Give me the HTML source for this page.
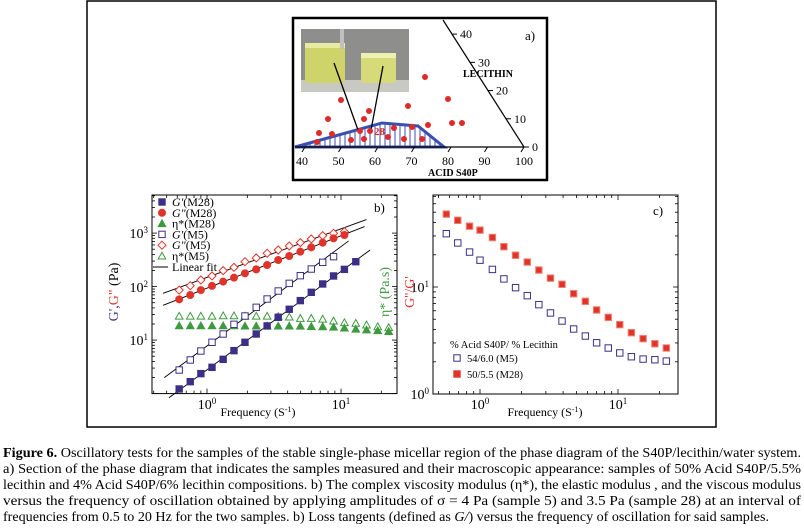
<!DOCTYPE html>
<html><head><meta charset="utf-8"><style>
body{margin:0;background:#fff;}
svg{display:block;font-family:"Liberation Serif",serif;}
</style></head><body>
<svg id="fig" width="804" height="530" viewBox="0 0 804 530" xmlns="http://www.w3.org/2000/svg">
<rect x="87" y="1" width="629" height="426" fill="none" stroke="#000" stroke-width="1.5"/>
<g id="pa">
<rect x="293" y="18" width="254" height="162" fill="#fff" stroke="#000" stroke-width="2.5"/>
<g>
<rect x="301" y="29" width="108" height="63" fill="#8e8f8c"/>
<rect x="301" y="80" width="108" height="12" fill="#c9c9c4"/>
<rect x="305" y="43" width="40" height="40" fill="#cfd46a" rx="3"/>
<rect x="305" y="43" width="40" height="5" fill="#e8eaa0"/>
<rect x="361" y="53" width="35" height="30" fill="#d6da78" rx="3"/>
<rect x="361" y="53" width="35" height="5" fill="#eef0b0"/>
<rect x="340" y="29" width="4" height="20" fill="#c0c0c0"/>
</g>
<polygon points="295,147 382,123 418,126 444,147" fill="#fff" stroke="#3b4fb0" stroke-width="3"/>
<g id="hatch" stroke="#3b4fb0" stroke-width="1"></g>
<line x1="295" y1="147" x2="524" y2="147" stroke="#000" stroke-width="1.2"/>
<line x1="443" y1="20" x2="524" y2="147" stroke="#000" stroke-width="1.2"/>
<line x1="334" y1="63" x2="358" y2="130" stroke="#000" stroke-width="1.3"/>
<line x1="383" y1="66" x2="371" y2="130" stroke="#000" stroke-width="1.3"/>
<g id="dots" fill="#e02a2a"></g>
<g id="ternLabels" font-size="12" fill="#000"></g>
<text x="428" y="176" font-size="10" font-weight="bold">ACID S40P</text>
<text x="463" y="77" font-size="10" font-weight="bold">LECITHIN</text>
<text x="525" y="40" font-size="13">a)</text>
</g>
<g id="pb"></g>
<g id="pc"></g>
<g id="caption" font-size="14" fill="#000">
<text x="3" y="457" textLength="798" lengthAdjust="spacingAndGlyphs"><tspan font-weight="bold">Figure 6.</tspan> Oscillatory tests for the samples of the stable single-phase micellar region of the phase diagram of the S40P/lecithin/water system.</text>
<text x="3" y="473" textLength="798" lengthAdjust="spacingAndGlyphs">a) Section of the phase diagram that indicates the samples measured and their macroscopic appearance: samples of 50% Acid S40P/5.5%</text>
<text x="3" y="489" textLength="798" lengthAdjust="spacingAndGlyphs">lecithin and 4% Acid S40P/6% lecithin compositions. b) The complex viscosity modulus (η*), the elastic modulus , and the viscous modulus</text>
<text x="3" y="505" textLength="798" lengthAdjust="spacingAndGlyphs">versus the frequency of oscillation obtained by applying amplitudes of σ = 4 Pa (sample 5) and 3.5 Pa (sample 28) at an interval of</text>
<text x="3" y="521" textLength="766" lengthAdjust="spacingAndGlyphs">frequencies from 0.5 to 20 Hz for the two samples. b) Loss tangents (defined as <tspan font-style="italic">G/</tspan>) versus the frequency of oscillation for said samples.</text>
</g>
</svg>
<script>
const freqB = [0.62,0.75,0.90,1.09,1.32,1.59,1.92,2.33,2.81,3.40,4.11,4.97,6.0,7.3,8.8,10.6,12.9,15.5,18.8,22.7];
const gpM28 = [1.22,1.67,2.36,3.1,4.37,6.35,9.1,13,18.4,26.7,37.7,54.7,78.2,112,158,210,292];
const gppM28 = [57.8,69.7,86,103,124,147,177,210,253,314,373,450,542,663,798,922];
const etaM28 = [18.5,18.5,18.5,18.5,18.5,18.5,18.3,18.3,18.3,18.3,18.3,18.2,18,17.8,17.5,16.8,16,15.5,15,14.5];
const gpM5 = [2.76,4.25,6.25,9.1,13.0,19.7,28.2,41,58.6,82.7,115,160,213,284,363];
const gppM5 = [86,104,133,158,199,229,292,343,419,483,574,663,776,896,991,1064];
const etaM5 = [28,28,28,28,28.5,28.5,28,28,28,27.5,27,25.5,25.5,24.7,22.8,21.2,20.6,19.2,17.8,17.1];
const fitRangeGpM5 = [0.48,11.4], fitRangeGpM28 = [0.52,16.5], fitRangeGppM5 = [0.47,15.5], fitRangeGppM28 = [0.47,15.0];
const freqC = [0.57,0.69,0.84,1.0,1.23,1.49,1.81,2.2,2.67,3.24,3.93,4.77,5.8,7.0,8.5,10.3,12.5,15.2,18.5,22.4];
const tanM28 = [48,42,37,34,29,23.8,19.8,17.1,14.4,12.1,10.6,8.65,7.35,6.1,5.2,4.45,3.74,3.29,2.95,2.69];
const tanM5 = [31.5,25.8,21.2,17.8,14.6,11.9,9.86,8.3,6.84,5.72,4.81,4.05,3.48,3.01,2.69,2.42,2.23,2.12,2.09,2.03];
const acidTicks = [40,50,60,70,80,90,100];
const lecTicks = [0,10,20,30,40];

const NS="http://www.w3.org/2000/svg";
function mk(tag,attrs,parent){const e=document.createElementNS(NS,tag);for(const k in attrs)e.setAttribute(k,attrs[k]);parent.appendChild(e);return e;}
const PURPLE="#3d2f86",RED="#e0342a",GREEN="#3f9a3f";

(function(){
 const g=document.getElementById('ternLabels');
 const ax=v=>305+(v-40)*3.65;
 acidTicks.forEach(v=>{
  mk('line',{x1:ax(v),y1:147,x2:ax(v)-3,y2:152,stroke:'#000'},g);
  const t=mk('text',{x:ax(v)-9,y:165},g);t.textContent=v;
  
  
 });
 lecTicks.forEach(v=>{
  const x=524-v*(81/45),y=147-v*(127/45);
  mk('line',{x1:x,y1:y,x2:x+5,y2:y,stroke:'#000'},g);
  const t=mk('text',{x:x+8,y:y+4},g);t.textContent=v;
  
  
 });
 const h=document.getElementById('hatch');
 for(let x=300;x<442;x+=5){
  let top;
  if(x<=382) top=147-(x-295)*24/87; else if(x<=418) top=123+(x-382)*3/36; else top=126+(x-418)*21/26;
  mk('line',{x1:x,y1:147,x2:x,y2:top},h);
 }
 const dots=[[425,77],[448,99],[408,106],[369,111],[341,100],[328,119],[364,119],[319,133],[332,134],[394,128],[428,125],[452,123],[462,123],[370,131],[351,140],[364,139],[388,137],[404,139],[422,139],[360,131],[412,127],[317,142]];
 const d=document.getElementById('dots');
 dots.forEach(p=>{const c=mk('circle',{cx:p[0],cy:p[1],r:3},d);
  
  });
 const t=mk('text',{x:374,y:135,'font-size':11,'font-weight':'bold',fill:'#e02a2a'},d);t.textContent='28';
})();

function logAxis(x0,x1,lx0,lx1){return v=>x0+(Math.log10(v)-lx0)/(lx1-lx0)*(x1-x0);}
function frame(g,L,T,R,B,sx,sy,xr,yr){
 mk('rect',{x:L,y:T,width:R-L,height:B-T,fill:'none',stroke:'#000','stroke-width':1},g);
 for(let d=Math.floor(xr[0]);d<=xr[1];d++)for(let m=1;m<10;m++){const v=m*Math.pow(10,d);const x=sx(v);if(x<L||x>R)continue;const len=m===1?5:3;
  mk('line',{x1:x,y1:B,x2:x,y2:B-len,stroke:'#000','stroke-width':0.8},g);mk('line',{x1:x,y1:T,x2:x,y2:T+len,stroke:'#000','stroke-width':0.8},g);}
 for(let d=Math.floor(yr[0]);d<=yr[1];d++)for(let m=1;m<10;m++){const v=m*Math.pow(10,d);const y=sy(v);if(y<T-0.5||y>B+0.5)continue;const len=m===1?5:3;
  mk('line',{x1:L,y1:y,x2:L+len,y2:y,stroke:'#000','stroke-width':0.8},g);mk('line',{x1:R,y1:y,x2:R-len,y2:y,stroke:'#000','stroke-width':0.8},g);}
}
function pow10(g,x,y,e,anchor,name){
 const t=mk('text',{x:x,y:y,'font-size':14,'text-anchor':anchor||'middle'},g);
 
 
 t.appendChild(document.createTextNode('10'));
 const s=mk('tspan',{dy:-5,'font-size':9},t);s.textContent=e;
}
function marker(g,type,x,y,color,filled,name){
 let e;
 const f=filled?color:'#fff';
 if(type==='sq') e=mk('rect',{x:x-3.2,y:y-3.2,width:6.4,height:6.4,fill:f,stroke:color,'stroke-width':1},g);
 else if(type==='di') e=filled?mk('circle',{cx:x,cy:y,r:3.5,fill:f,stroke:color},g):mk('polygon',{points:`${x},${y-4} ${x+4},${y} ${x},${y+4} ${x-4},${y}`,fill:f,stroke:color,'stroke-width':1},g);
 else e=mk('polygon',{points:`${x},${y-3.8} ${x+3.8},${y+3} ${x-3.8},${y+3}`,fill:f,stroke:color,'stroke-width':1},g);
 
 
 return e;
}
(function(){
 const g=document.getElementById('pb');
 const L=152,T=195,R=397,B=393.6;
 const sx=logAxis(207,341,0,1);
 const sy=v=>393.6-Math.log10(v)*53.5;
 frame(g,L,T,R,B,sx,sy,[-1,1.5],[0,3.8]);
 pow10(g,207,409,'0','middle','x-tick-label');pow10(g,341,409,'1','middle','x-tick-label');
 [[3,233],[2,287],[1,340]].forEach(a=>pow10(g,148,a[1]+5,a[0],'end','y-tick-label'));
 function fit(xs,ys,range,name){
  const n=ys.length;let sxv=0,syv=0,sxx=0,sxy=0;
  for(let i=0;i<n;i++){const a=Math.log10(xs[i]),b=Math.log10(ys[i]);sxv+=a;syv+=b;sxx+=a*a;sxy+=a*b;}
  const k=(n*sxy-sxv*syv)/(n*sxx-sxv*sxv),c=(syv-k*sxv)/n;
  const f=v=>Math.pow(10,c+k*Math.log10(v));
  const l=mk('line',{x1:sx(range[0]),y1:sy(f(range[0])),x2:sx(range[1]),y2:sy(f(range[1])),stroke:'#000','stroke-width':0.9},g);
  
  
 }
 fit(freqB,gppM5,fitRangeGppM5,'fit-gpp-m5');
 fit(freqB,gppM28,fitRangeGppM28,'fit-gpp-m28');
 fit(freqB,gpM5,fitRangeGpM5,'fit-gp-m5');
 fit(freqB,gpM28,fitRangeGpM28,'fit-gp-m28');
 etaM5.forEach((v,i)=>marker(g,'tri',sx(freqB[i]),sy(v),GREEN,false,'eta-m5-point'));
 etaM28.forEach((v,i)=>marker(g,'tri',sx(freqB[i]),sy(v),GREEN,true,'eta-m28-point'));
 gppM5.forEach((v,i)=>marker(g,'di',sx(freqB[i]),sy(v),RED,false,'gpp-m5-point'));
 gppM28.forEach((v,i)=>marker(g,'di',sx(freqB[i]),sy(v),RED,true,'gpp-m28-point'));
 gpM5.forEach((v,i)=>marker(g,'sq',sx(freqB[i]),sy(v),PURPLE,false,'gp-m5-point'));
 gpM28.forEach((v,i)=>marker(g,'sq',sx(freqB[i]),sy(v),PURPLE,true,'gp-m28-point'));
 const leg=[['sq',PURPLE,true,"G'",'(M28)',1],['di',RED,true,'G"','(M28)',1],['tri',GREEN,true,'η*','(M28)',0],['sq',PURPLE,false,"G'",'(M5)',1],['di',RED,false,'G"','(M5)',1],['tri',GREEN,false,'η*','(M5)',0]];
 leg.forEach((e,i)=>{const y=202+i*10.8;marker(g,e[0],162,y,e[1],e[2],'legend-marker');
  const t=mk('text',{x:172,y:y+4,'font-size':12},g);
  
  
  const a=mk('tspan',{'font-style':e[5]?'italic':'normal'},t);a.textContent=e[3];
  const b=mk('tspan',{},t);b.textContent=e[4];});
 mk('line',{x1:153,y1:267,x2:168,y2:267,stroke:'#000'},g);
 const lf=mk('text',{x:172,y:271,'font-size':12},g);lf.textContent='Linear fit';
 
 
 const pl=mk('text',{x:374,y:212,'font-size':13},g);pl.textContent='b)';
 
 
 const xt=mk('text',{x:258,y:416,'font-size':12,'text-anchor':'middle'},g);
 
 
 xt.appendChild(document.createTextNode('Frequency (S'));const s1=mk('tspan',{dy:-4,'font-size':8},xt);s1.textContent='-1';const s2=mk('tspan',{dy:4},xt);s2.textContent=')';
 const yt=mk('text',{x:0,y:0,'font-size':14,'text-anchor':'middle',transform:'translate(118,292) rotate(-90)'},g);
 
 
 const y1=mk('tspan',{fill:PURPLE},yt);y1.textContent="G',";const y2=mk('tspan',{fill:RED},yt);y2.textContent='G"';const y3=mk('tspan',{},yt);y3.textContent=' (Pa)';
 const et=mk('text',{x:0,y:0,'font-size':14,'text-anchor':'middle',fill:GREEN,transform:'translate(389,292) rotate(-90)'},g);
 
 
 et.textContent='η* (Pa.s)';
})();
(function(){
 const g=document.getElementById('pc');
 const L=433,T=195,R=678,B=394;
 const sx=logAxis(480,618,0,1);
 const sy=v=>394-Math.log10(v)*107;
 frame(g,L,T,R,B,sx,sy,[-1,1.5],[0,1.9]);
 pow10(g,480,409,'0','middle','x-tick-label');pow10(g,618,409,'1','middle','x-tick-label');
 pow10(g,429,292,'1','end','y-tick-label');pow10(g,429,399,'0','end','y-tick-label');
 tanM5.forEach((v,i)=>marker(g,'sq',sx(freqC[i]),sy(v),PURPLE,false,'tan-m5-point'));
 tanM28.forEach((v,i)=>{const e=marker(g,'sq',sx(freqC[i]),sy(v),'#e0342a',true,'tan-m28-point');e.setAttribute('stroke','#f08070');});
 const lt=mk('text',{x:450,y:348,'font-size':10.5},g);lt.textContent='% Acid  S40P/ % Lecithin';
 
 
 marker(g,'sq',457,358,PURPLE,false,'legend-marker');
 const a=mk('text',{x:467,y:362,'font-size':10.5},g);a.textContent='54/6.0 (M5)';
 
 
 marker(g,'sq',457,374,'#e0342a',true,'legend-marker');
 const b=mk('text',{x:467,y:378,'font-size':10.5},g);b.textContent='50/5.5 (M28)';
 
 
 const pl=mk('text',{x:653,y:215,'font-size':13},g);pl.textContent='c)';
 
 
 const xt=mk('text',{x:545,y:416,'font-size':12,'text-anchor':'middle'},g);
 
 
 xt.appendChild(document.createTextNode('Frequency (S'));const s1=mk('tspan',{dy:-4,'font-size':8},xt);s1.textContent='-1';const s2=mk('tspan',{dy:4},xt);s2.textContent=')';
 const yt=mk('text',{x:0,y:0,'font-size':14,'text-anchor':'middle',fill:RED,transform:'translate(414,292) rotate(-90)'},g);
 
 
 yt.textContent="G''/G'";
})();
</script>
</body></html>
